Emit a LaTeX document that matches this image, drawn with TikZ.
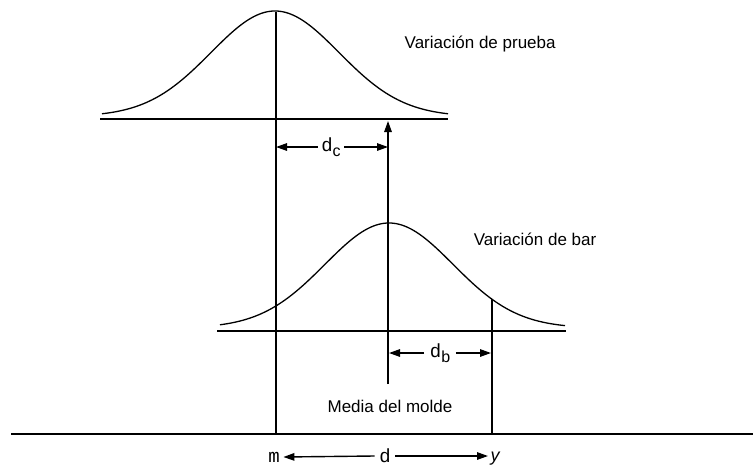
\documentclass[tikz,border=0pt]{standalone}
\usepackage{fontspec}
\setmainfont{Liberation Sans}
\newfontfamily\monof{Liberation Mono}
\usetikzlibrary{arrows.meta}
\newcommand{\subsc}[1]{\raisebox{-5pt}{\normalfont\fontsize{16}{16}\selectfont #1}}
\begin{document}
\begin{tikzpicture}[x=1pt,y=-1pt,line width=1.4pt,
  arr/.style={-{Triangle[length=11pt,width=7.5pt]}},
  lbl/.style={font=\fontsize{17}{19}\selectfont,inner sep=0pt},
  dlbl/.style={font=\monof\fontsize{19}{19}\selectfont,inner sep=0pt},
  curve/.style={line width=1.3pt}]
\useasboundingbox (0,0) rectangle (753,466);

% baselines
\coordinate (tb1) at (100,119); \coordinate (tb2) at (448,119);
\coordinate (mb1) at (217,331); \coordinate (mb2) at (566,331);
\coordinate (bb1) at (11,434);  \coordinate (bb2) at (753,434);
\draw (tb1) -- (tb2);
\draw (mb1) -- (mb2);
\draw (bb1) -- (bb2);

% curves
\draw[curve] plot[domain=102:448,samples=140,smooth] (\x,{116.5-105.5*exp(-0.5*((\x-275)/64)^2)});
\draw[curve] plot[domain=220:565,samples=140,smooth] (\x,{328-105*exp(-0.5*((\x-389)/64)^2)});

% vertical lines
\coordinate (mtop) at (276,12); \coordinate (mbot) at (276,434);
\draw (mtop) -- (mbot);
\coordinate (ytop) at (492,{328-105*exp(-0.5*((492-389)/64)^2)}); \coordinate (ybot) at (492,434);
\draw (ytop) -- (ybot);
\coordinate (molde) at (388,384); \coordinate (moldetop) at (388,121);
\draw[arr] (molde) -- (moldetop);

% labels
\node[lbl,anchor=base west] (prueba) at (404,48) {Variación de prueba};
\node[lbl,anchor=base east] (bar) at (597,245) {Variación de bar};
\node[lbl,anchor=base] (media) at (390,412) {Media del molde};

% d_c
\node[dlbl,inner xsep=3pt] (dc) at (331,147) {d\subsc{c}};
\coordinate (dcl) at (276,147); \coordinate (dcr) at (388,147);
\draw[arr] (dc.west |- dcl) -- (dcl);
\draw[arr] (dc.east |- dcr) -- (dcr);

% d_b
\node[dlbl,inner xsep=5pt] (db) at (440,353) {d\subsc{b}};
\coordinate (dbl) at (389,353); \coordinate (dbr) at (491,353);
\draw[arr] (db.west |- dbl) -- (dbl);
\draw[arr] (db.east |- dbr) -- (dbr);

% d
\node[dlbl,inner sep=3pt] (m) at (274,457) {m};
\node[dlbl,inner xsep=4pt,inner ysep=0pt] (d) at (385,456) {d};
\node[font=\itshape\fontsize{18}{18}\selectfont,inner sep=2pt,anchor=base west] (y) at (488,461) {y};
\draw[arr] (d.west) -- (m.east);
\draw[arr] (d.east) -- (y.west |- d.east);
\end{tikzpicture}
\end{document}
